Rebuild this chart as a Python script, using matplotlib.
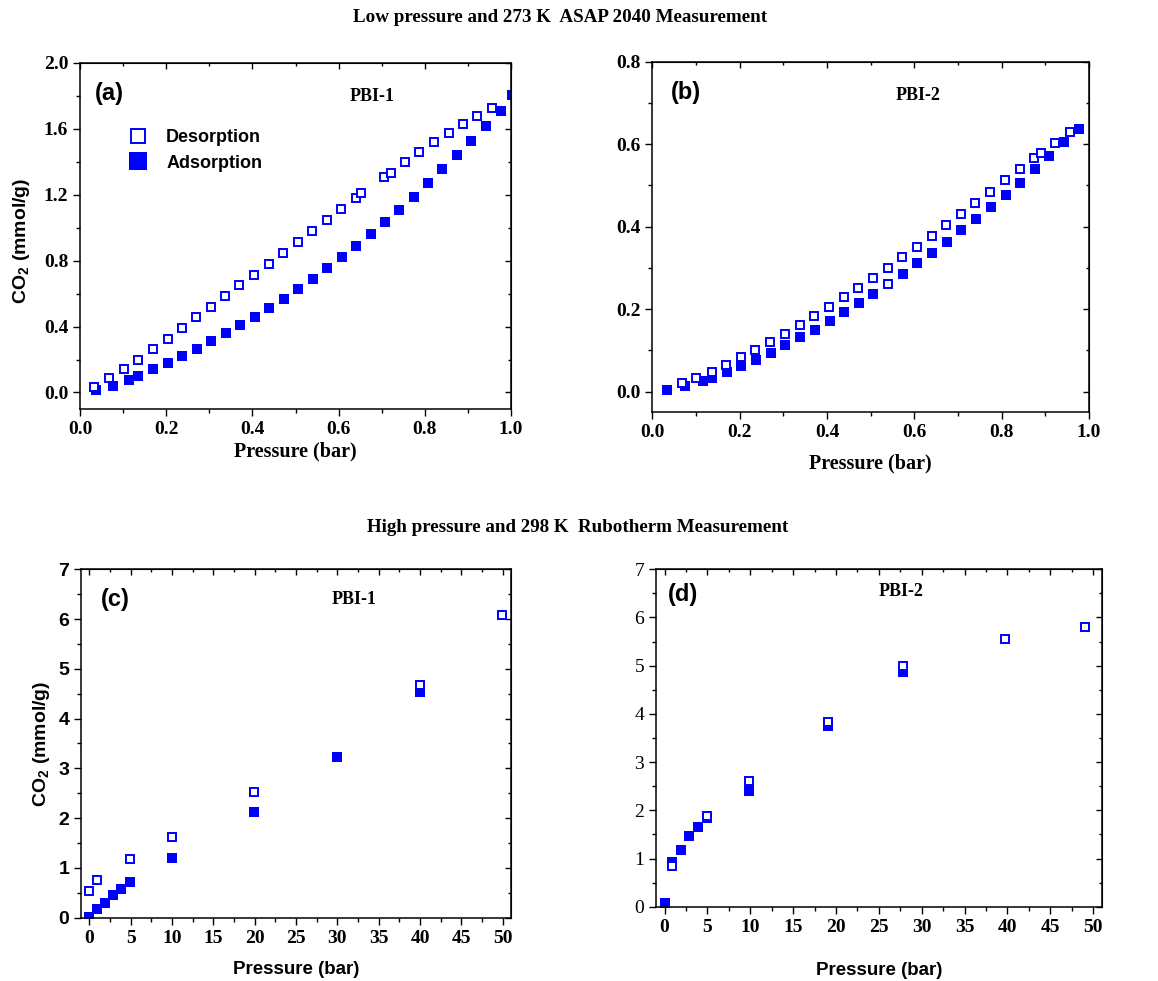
import matplotlib
matplotlib.use('Agg')
import matplotlib.pyplot as plt
from matplotlib.ticker import MultipleLocator

plt.rcParams['mathtext.fontset'] = 'custom'
plt.rcParams['mathtext.bf'] = 'Liberation Sans:bold'
plt.rcParams['mathtext.rm'] = 'Liberation Sans:bold'

SERIF = 'Liberation Serif'
SANS = 'Liberation Sans'
BLUE = '#0000ff'

# (a) PBI-1, 273 K, low pressure
a_des_p = [0.033, 0.068, 0.102, 0.135, 0.169, 0.203, 0.237, 0.270, 0.303, 0.337,
           0.370, 0.404, 0.438, 0.471, 0.505, 0.538, 0.572, 0.605, 0.640, 0.653,
           0.706, 0.722, 0.753, 0.787, 0.821, 0.855, 0.888, 0.922, 0.956]
a_des_q = [0.034, 0.085, 0.140, 0.198, 0.261, 0.324, 0.390, 0.455, 0.520, 0.584,
           0.649, 0.714, 0.781, 0.847, 0.912, 0.979, 1.045, 1.110, 1.181, 1.207,
           1.308, 1.333, 1.397, 1.458, 1.519, 1.575, 1.626, 1.678, 1.725]
a_ads_p = [0.037, 0.076, 0.114, 0.135, 0.170, 0.203, 0.237, 0.271, 0.304, 0.338,
           0.371, 0.406, 0.439, 0.473, 0.506, 0.540, 0.574, 0.607, 0.640, 0.674,
           0.708, 0.741, 0.774, 0.808, 0.841, 0.875, 0.908, 0.942, 0.976, 1.003]
a_ads_q = [0.014, 0.042, 0.075, 0.103, 0.140, 0.178, 0.224, 0.263, 0.311, 0.360,
           0.408, 0.459, 0.512, 0.568, 0.627, 0.688, 0.752, 0.819, 0.886, 0.959,
           1.033, 1.108, 1.187, 1.270, 1.355, 1.442, 1.527, 1.616, 1.707, 1.804]

# (b) PBI-2, 273 K, low pressure
b_des_p = [0.069, 0.101, 0.136, 0.169, 0.203, 0.236, 0.270, 0.304, 0.338, 0.371,
           0.404, 0.438, 0.471, 0.506, 0.540, 0.540, 0.572, 0.606, 0.640, 0.673,
           0.707, 0.740, 0.774, 0.808, 0.841, 0.874, 0.889, 0.922, 0.956]
b_des_q = [0.020, 0.032, 0.048, 0.065, 0.083, 0.101, 0.120, 0.141, 0.162, 0.184,
           0.206, 0.229, 0.252, 0.276, 0.300, 0.262, 0.326, 0.351, 0.377, 0.403,
           0.430, 0.457, 0.485, 0.512, 0.540, 0.567, 0.579, 0.604, 0.630]
b_ads_p = [0.033, 0.076, 0.117, 0.136, 0.170, 0.204, 0.237, 0.272, 0.305, 0.339,
           0.372, 0.406, 0.440, 0.474, 0.506, 0.574, 0.607, 0.641, 0.674, 0.708,
           0.741, 0.775, 0.809, 0.842, 0.876, 0.909, 0.943, 0.976]
b_ads_q = [0.004, 0.014, 0.027, 0.032, 0.048, 0.063, 0.078, 0.095, 0.113, 0.132,
           0.150, 0.171, 0.192, 0.214, 0.238, 0.285, 0.312, 0.337, 0.364, 0.391,
           0.419, 0.448, 0.478, 0.507, 0.541, 0.571, 0.606, 0.638]

# (c) PBI-1, 298 K, high pressure
c_des_p = [0.0, 1.0, 4.9, 10.0, 19.9, 40.0, 49.9]
c_des_q = [0.54, 0.76, 1.17, 1.63, 2.53, 4.68, 6.09]
c_ads_p = [0.0, 0.9, 1.9, 2.9, 3.9, 4.9, 10.0, 19.9, 30.0, 40.0]
c_ads_q = [0.02, 0.17, 0.30, 0.45, 0.58, 0.71, 1.19, 2.12, 3.23, 4.53]

# (d) PBI-2, 298 K, high pressure
d_des_p = [0.9, 4.9, 9.8, 19.1, 27.8, 39.7, 49.1]
d_des_q = [0.84, 1.88, 2.60, 3.84, 5.00, 5.55, 5.81]
d_ads_p = [0.1, 0.9, 1.9, 2.9, 3.9, 4.9, 9.8, 19.1, 27.8]
d_ads_q = [0.07, 0.93, 1.18, 1.46, 1.66, 1.85, 2.41, 3.74, 4.86]

TICK_FS = 14


def style_axis(ax, xmaj, xmin, ymaj, ymin):
    ax.xaxis.set_major_locator(MultipleLocator(xmaj))
    ax.xaxis.set_minor_locator(MultipleLocator(xmin))
    ax.yaxis.set_major_locator(MultipleLocator(ymaj))
    ax.yaxis.set_minor_locator(MultipleLocator(ymin))
    ax.tick_params(which='both', direction='out', top=False, right=False, width=1.0)
    ax.tick_params(which='major', length=5)
    ax.tick_params(which='minor', length=3)
    for s in ax.spines.values():
        s.set_linewidth(1.1)
    # inner ticks on top / right like the origin plots
    sx = ax.secondary_xaxis('top')
    sx.xaxis.set_major_locator(MultipleLocator(xmaj))
    sx.xaxis.set_minor_locator(MultipleLocator(xmin))
    sx.tick_params(which='both', direction='in', labeltop=False, width=1.0)
    sx.tick_params(which='major', length=4)
    sx.tick_params(which='minor', length=2.5)
    sy = ax.secondary_yaxis('right')
    sy.yaxis.set_major_locator(MultipleLocator(ymaj))
    sy.yaxis.set_minor_locator(MultipleLocator(ymin))
    sy.tick_params(which='both', direction='in', labelright=False, width=1.0)
    sy.tick_params(which='major', length=4)
    sy.tick_params(which='minor', length=2.5)


def set_ticklabel_font(labels, family, weight, size):
    for t in labels:
        t.set_fontfamily(family)
        t.set_fontweight(weight)
        t.set_fontsize(size)


def draw(ax, dp, dq, ap, aq):
    ax.plot(ap, aq, 's', color=BLUE, ms=7.2, mew=0, label='Adsorption')
    ax.plot(dp, dq, 's', mfc='white', mec=BLUE, ms=6.0, mew=1.4, label='Desorption')


fig = plt.figure(figsize=(11.58, 9.81), dpi=100)
ax_a = fig.add_axes([0.0691, 0.5831, 0.3722, 0.3530])
ax_b = fig.add_axes([0.5633, 0.5797, 0.3771, 0.3574])
ax_c = fig.add_axes([0.0699, 0.0645, 0.3714, 0.3552])
ax_d = fig.add_axes([0.5665, 0.0757, 0.3849, 0.3440])

# (a)
draw(ax_a, a_des_p, a_des_q, a_ads_p, a_ads_q)
ax_a.set_xlim(0, 1.0)
ax_a.set_ylim(-0.1, 2.0)
style_axis(ax_a, 0.2, 0.1, 0.4, 0.2)
ax_a.xaxis.set_major_formatter('{x:.1f}')
ax_a.yaxis.set_major_formatter('{x:.1f}')
set_ticklabel_font(ax_a.get_xticklabels() + ax_a.get_yticklabels(), SERIF, 'bold', TICK_FS)
ax_a.set_xlabel('Pressure (bar)', fontfamily=SERIF, fontweight='bold', fontsize=14.5)
ax_a.xaxis.set_label_coords(0.5, -0.095)
ax_a.set_ylabel(r'CO$_\mathbf{2}$ (mmol/g)', fontfamily=SANS, fontweight='bold', fontsize=14)
ax_a.yaxis.set_label_coords(-0.112, 0.485)
ax_a.text(0.067, 0.912, '(a)', transform=ax_a.transAxes, ha='center', va='center',
          fontfamily=SANS, fontweight='bold', fontsize=17)
ax_a.text(0.677, 0.901, 'PBI-1', transform=ax_a.transAxes, ha='center', va='center',
          fontfamily=SERIF, fontweight='bold', fontsize=13)
h, l = ax_a.get_legend_handles_labels()
ax_a.legend(h[::-1], l[::-1], loc='upper left', bbox_to_anchor=(0.072, 0.855),
            frameon=False, markerscale=1.75, handlelength=1.2, handletextpad=0.95,
            labelspacing=0.48, prop={'family': SANS, 'weight': 'bold', 'size': 13})

# (b)
draw(ax_b, b_des_p, b_des_q, b_ads_p, b_ads_q)
ax_b.set_xlim(0, 1.0)
ax_b.set_ylim(-0.05, 0.8)
style_axis(ax_b, 0.2, 0.1, 0.2, 0.1)
ax_b.xaxis.set_major_formatter('{x:.1f}')
ax_b.yaxis.set_major_formatter('{x:.1f}')
set_ticklabel_font(ax_b.get_xticklabels() + ax_b.get_yticklabels(), SERIF, 'bold', TICK_FS)
ax_b.set_xlabel('Pressure (bar)', fontfamily=SERIF, fontweight='bold', fontsize=14.5)
ax_b.xaxis.set_label_coords(0.5, -0.118)
ax_b.text(0.077, 0.911, '(b)', transform=ax_b.transAxes, ha='center', va='center',
          fontfamily=SANS, fontweight='bold', fontsize=17)
ax_b.text(0.608, 0.903, 'PBI-2', transform=ax_b.transAxes, ha='center', va='center',
          fontfamily=SERIF, fontweight='bold', fontsize=13)

# (c)
draw(ax_c, c_des_p, c_des_q, c_ads_p, c_ads_q)
ax_c.set_xlim(-1, 51)
ax_c.set_ylim(0, 7)
style_axis(ax_c, 5, 2.5, 1, 0.5)
set_ticklabel_font(ax_c.get_xticklabels(), SERIF, 'bold', TICK_FS)
set_ticklabel_font(ax_c.get_yticklabels(), SANS, 'bold', TICK_FS)
ax_c.set_xlabel('Pressure (bar)', fontfamily=SANS, fontweight='bold', fontsize=13.5)
ax_c.xaxis.set_label_coords(0.5, -0.125)
ax_c.set_ylabel(r'CO$_\mathbf{2}$ (mmol/g)', fontfamily=SANS, fontweight='bold', fontsize=14)
ax_c.yaxis.set_label_coords(-0.068, 0.5)
ax_c.text(0.079, 0.914, '(c)', transform=ax_c.transAxes, ha='center', va='center',
          fontfamily=SANS, fontweight='bold', fontsize=17)
ax_c.text(0.636, 0.914, 'PBI-1', transform=ax_c.transAxes, ha='center', va='center',
          fontfamily=SERIF, fontweight='bold', fontsize=13)

# (d)
draw(ax_d, d_des_p, d_des_q, d_ads_p, d_ads_q)
ax_d.set_xlim(-1, 51)
ax_d.set_ylim(0, 7)
style_axis(ax_d, 5, 2.5, 1, 0.5)
set_ticklabel_font(ax_d.get_xticklabels(), SERIF, 'bold', TICK_FS)
set_ticklabel_font(ax_d.get_yticklabels(), SERIF, 'normal', TICK_FS)
ax_d.set_xlabel('Pressure (bar)', fontfamily=SANS, fontweight='bold', fontsize=13.5)
ax_d.xaxis.set_label_coords(0.5, -0.163)
ax_d.text(0.061, 0.924, '(d)', transform=ax_d.transAxes, ha='center', va='center',
          fontfamily=SANS, fontweight='bold', fontsize=17)
ax_d.text(0.55, 0.934, 'PBI-2', transform=ax_d.transAxes, ha='center', va='center',
          fontfamily=SERIF, fontweight='bold', fontsize=13)

fig.text(560 / 1158, 1 - 18 / 981, 'Low pressure and 273 K  ASAP 2040 Measurement',
         ha='center', va='center', fontfamily=SERIF, fontweight='bold', fontsize=13.7)
fig.text(578 / 1158, 1 - 527 / 981, 'High pressure and 298 K  Rubotherm Measurement',
         ha='center', va='center', fontfamily=SERIF, fontweight='bold', fontsize=13.7)

fig.savefig('out.png', dpi=100)
